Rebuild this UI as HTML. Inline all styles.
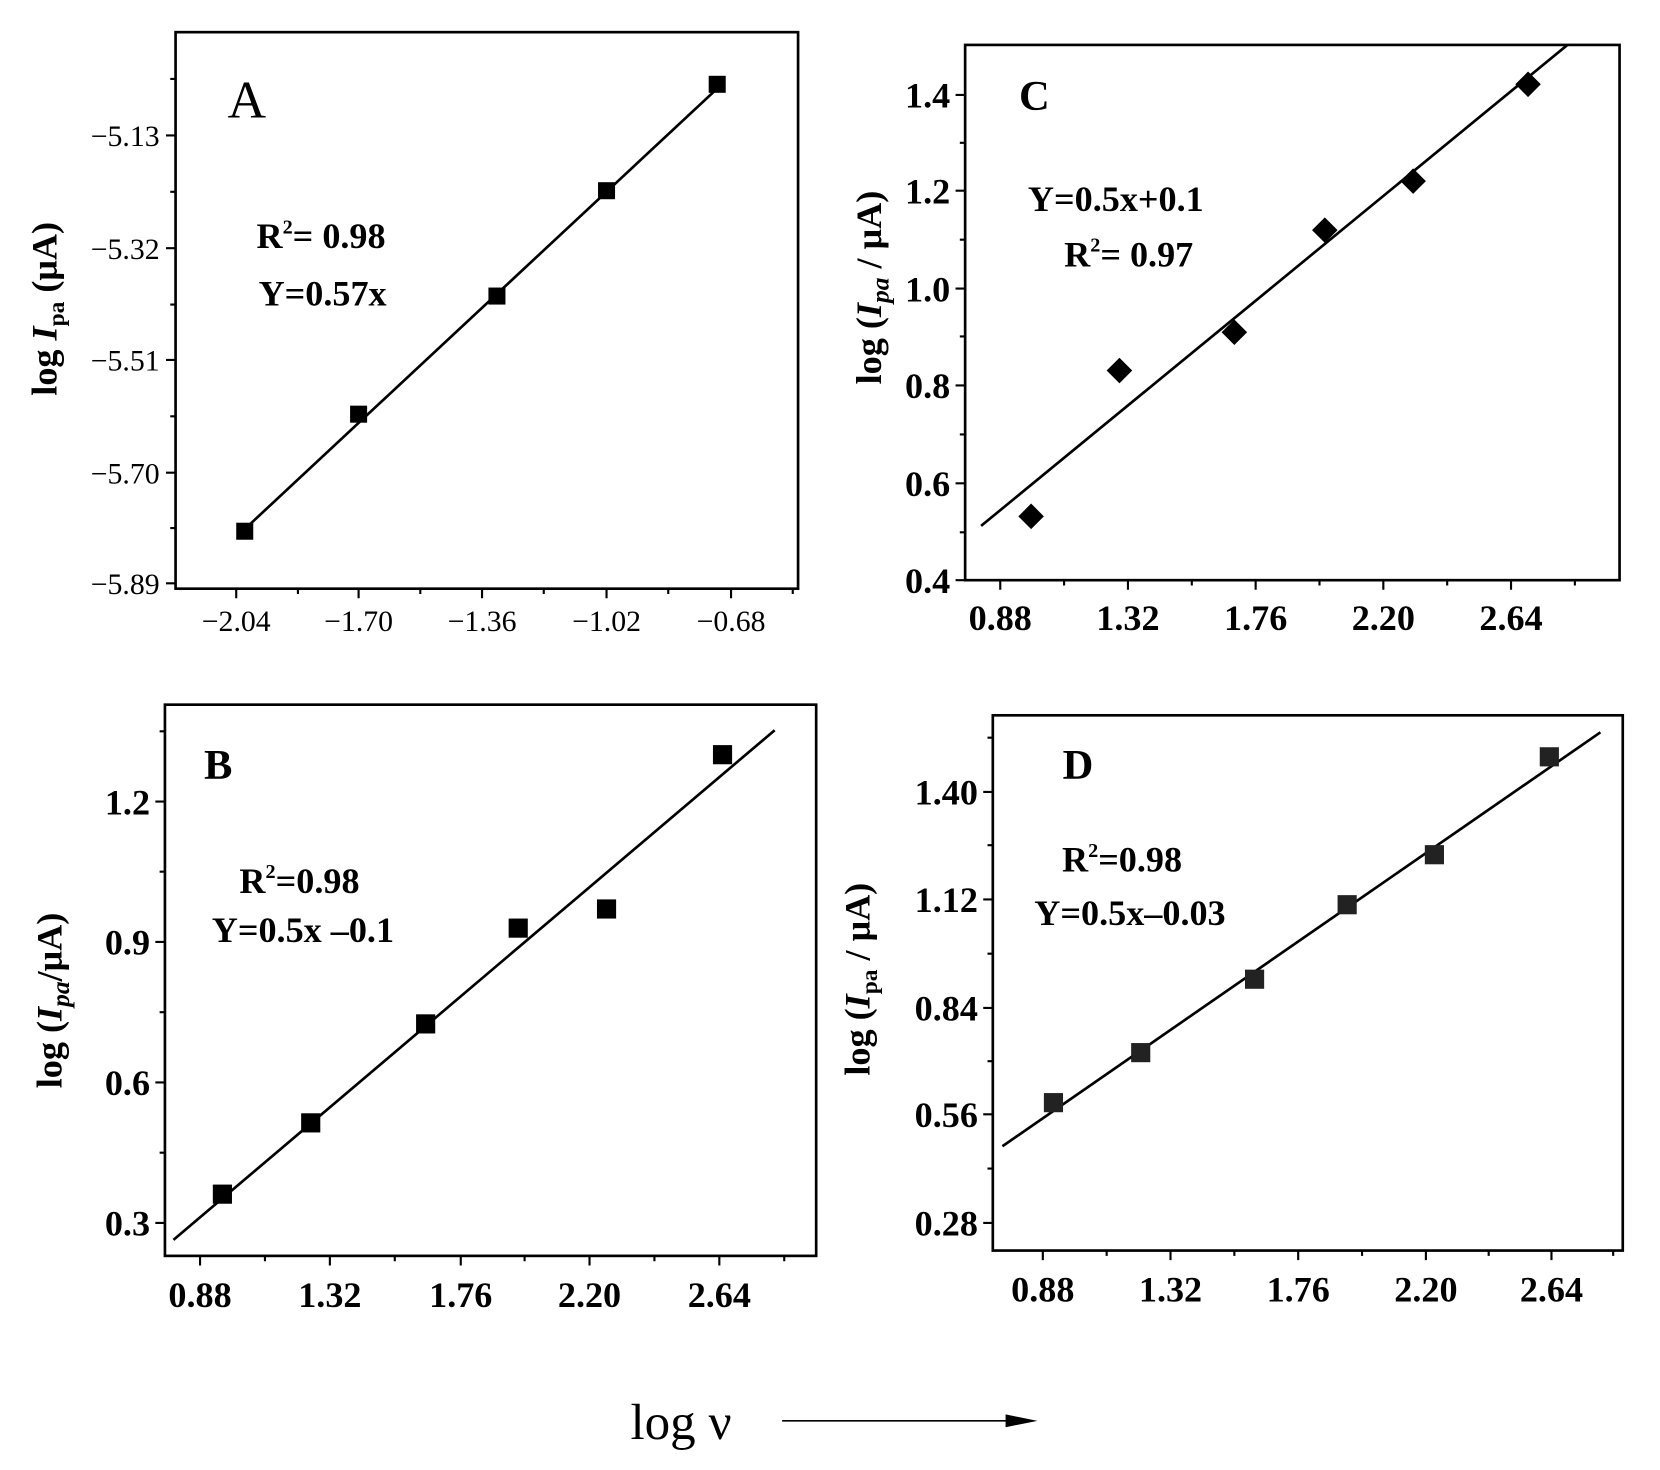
<!DOCTYPE html>
<html><head><meta charset="utf-8"><style>html,body{margin:0;padding:0;background:#fff}svg{display:block}</style></head>
<body>
<svg width="1660" height="1470" viewBox="0 0 1560 1381" xmlns="http://www.w3.org/2000/svg" font-family="Liberation Serif, serif">
<rect width="1560" height="1381" fill="#fff"/>
<g stroke="#000" stroke-width="2.5" fill="none">
<rect x="165" y="30" width="585" height="523"/>
<rect x="907" y="42" width="615" height="503"/>
<rect x="155" y="662" width="612" height="518"/>
<rect x="933" y="672" width="592" height="503"/>
</g>
<g stroke="#000" stroke-width="2">
<path d="M165 127h-9M165 233h-9M165 338h-9M165 444h-9M165 548h-9M165 74h-5M165 180h-5M165 286h-5M165 391h-5M165 496h-5"/>
<path d="M222 553v9M337 553v9M453 553v9M570 553v9M687 553v9M280 553v5M395 553v5M511 553v5M628 553v5M745 553v5"/>
<path d="M907 89h-9M907 179h-9M907 271h-9M907 362h-9M907 454h-9M907 545h-9M907 134h-5M907 225h-5M907 316h-5M907 408h-5M907 500h-5"/>
<path d="M940 545v9M1060 545v9M1180 545v9M1300 545v9M1420 545v9M1000 545v5M1120 545v5M1240 545v5M1360 545v5M1480 545v5"/>
<path d="M155 753h-9M155 885h-9M155 1017h-9M155 1149h-9M155 687h-5M155 819h-5M155 951h-5M155 1083h-5"/>
<path d="M188 1180v9M310 1180v9M433 1180v9M554 1180v9M676 1180v9M249 1180v5M371 1180v5M493 1180v5M615 1180v5M737 1180v5"/>
<path d="M933 744h-9M933 845h-9M933 947h-9M933 1047h-9M933 1149h-9M933 693h-5M933 794h-5M933 896h-5M933 997h-5M933 1098h-5"/>
<path d="M980 1175v9M1100 1175v9M1220 1175v9M1340 1175v9M1458 1175v9M1040 1175v5M1160 1175v5M1280 1175v5M1399 1175v5M1516 1175v5"/>
</g>
<g stroke="#000" stroke-width="2.5">
<line x1="230" y1="497" x2="674" y2="83"/>
<line x1="922" y1="494" x2="1473" y2="42"/>
<line x1="163" y1="1165" x2="728" y2="686"/>
<line x1="942" y1="1077" x2="1504" y2="688"/>
</g>
<g fill="#000">
<rect x="222" y="491" width="16" height="16"/><rect x="329" y="381" width="16" height="16"/><rect x="459" y="270" width="16" height="16"/><rect x="562" y="171" width="16" height="16"/><rect x="666" y="71" width="16" height="16"/>
<g transform="translate(969,485)"><path d="M0 -12L12 0L0 12L-12 0Z"/></g>
<g transform="translate(1052,348)"><path d="M0 -12L12 0L0 12L-12 0Z"/></g>
<g transform="translate(1160,312)"><path d="M0 -12L12 0L0 12L-12 0Z"/></g>
<g transform="translate(1245,216)"><path d="M0 -12L12 0L0 12L-12 0Z"/></g>
<g transform="translate(1328,170)"><path d="M0 -12L12 0L0 12L-12 0Z"/></g>
<g transform="translate(1436,79)"><path d="M0 -12L12 0L0 12L-12 0Z"/></g>
<rect x="200" y="1113" width="18" height="18"/><rect x="283" y="1046" width="18" height="18"/><rect x="391" y="953" width="18" height="18"/><rect x="478" y="863" width="18" height="18"/><rect x="561" y="845" width="18" height="18"/><rect x="670" y="700" width="18" height="18"/>
</g>
<g fill="#222">
<rect x="981" y="1027" width="18" height="18"/><rect x="1063" y="980" width="18" height="18"/><rect x="1170" y="911" width="18" height="18"/><rect x="1257" y="841" width="18" height="18"/><rect x="1339" y="794" width="18" height="18"/><rect x="1447" y="702" width="18" height="18"/>
</g>
<g font-size="28" text-anchor="end">
<text x="150" y="137">−5.13</text><text x="150" y="243">−5.32</text><text x="150" y="348">−5.51</text><text x="150" y="454">−5.70</text><text x="150" y="558">−5.89</text>
</g>
<g font-size="28" text-anchor="middle">
<text x="222" y="593">−2.04</text><text x="337" y="593">−1.70</text><text x="453" y="593">−1.36</text><text x="570" y="593">−1.02</text><text x="687" y="593">−0.68</text>
</g>
<g font-size="34" font-weight="bold" text-anchor="end">
<text x="893" y="101">1.4</text><text x="893" y="191">1.2</text><text x="893" y="283">1.0</text><text x="893" y="374">0.8</text><text x="893" y="466">0.6</text><text x="893" y="557">0.4</text>
<text x="141" y="765">1.2</text><text x="141" y="897">0.9</text><text x="141" y="1029">0.6</text><text x="141" y="1161">0.3</text>
<text x="919" y="756">1.40</text><text x="919" y="857">1.12</text><text x="919" y="959">0.84</text><text x="919" y="1059">0.56</text><text x="919" y="1161">0.28</text>
</g>
<g font-size="34" font-weight="bold" text-anchor="middle">
<text x="940" y="592">0.88</text><text x="1060" y="592">1.32</text><text x="1180" y="592">1.76</text><text x="1300" y="592">2.20</text><text x="1420" y="592">2.64</text>
<text x="188" y="1228">0.88</text><text x="310" y="1228">1.32</text><text x="433" y="1228">1.76</text><text x="554" y="1228">2.20</text><text x="676" y="1228">2.64</text>
<text x="980" y="1223">0.88</text><text x="1100" y="1223">1.32</text><text x="1220" y="1223">1.76</text><text x="1340" y="1223">2.20</text><text x="1458" y="1223">2.64</text>
</g>
<text x="232" y="110" font-size="50" text-anchor="middle">A</text>
<text x="972" y="103" font-size="40" font-weight="bold" text-anchor="middle">C</text>
<text x="205" y="732" font-size="40" font-weight="bold" text-anchor="middle">B</text>
<text x="1013" y="732" font-size="40" font-weight="bold" text-anchor="middle">D</text>
<g font-size="34" font-weight="bold">
<text x="241" y="233">R<tspan font-size="19" dy="-14">2</tspan><tspan dy="14">= 0.98</tspan></text>
<text x="243" y="287">Y=0.57x</text>
<text x="966" y="198">Y=0.5x+0.1</text>
<text x="1000" y="250">R<tspan font-size="19" dy="-14">2</tspan><tspan dy="14">= 0.97</tspan></text>
<text x="225" y="839">R<tspan font-size="19" dy="-14">2</tspan><tspan dy="14">=0.98</tspan></text>
<text x="199" y="885">Y=0.5x –0.1</text>
<text x="998" y="819">R<tspan font-size="19" dy="-14">2</tspan><tspan dy="14">=0.98</tspan></text>
<text x="972" y="869">Y=0.5x–0.03</text>
</g>
<g font-size="34" font-weight="bold" text-anchor="middle">
<text transform="translate(53,290) rotate(-90)">log <tspan font-style="italic">I</tspan><tspan font-size="22" dy="7">pa</tspan><tspan dy="-7"> (μA)</tspan></text>
<text transform="translate(828,270) rotate(-90)">log (<tspan font-style="italic">I</tspan><tspan font-size="24" dy="7" font-style="italic">pa</tspan><tspan dy="-7"> / μA)</tspan></text>
<text transform="translate(58,940) rotate(-90)">log (<tspan font-style="italic">I</tspan><tspan font-size="24" dy="7" font-style="italic">pa</tspan><tspan dy="-7">/μA)</tspan></text>
<text transform="translate(817,920) rotate(-90)">log (<tspan font-style="italic">I</tspan><tspan font-size="22" dy="7">pa</tspan><tspan dy="-7"> / μA)</tspan></text>
</g>
<text x="640" y="1352" font-size="48" text-anchor="middle">log ν</text>
<line x1="735" y1="1335" x2="950" y2="1335" stroke="#000" stroke-width="1.5"/>
<path d="M945 1329L975 1335L945 1341Z" fill="#000"/>
</svg>
</body></html>
